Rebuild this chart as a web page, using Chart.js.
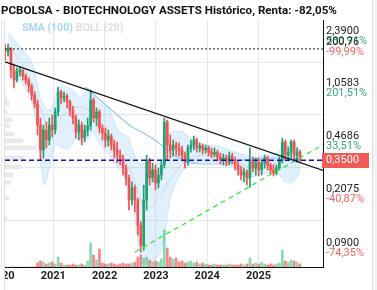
<!DOCTYPE html>
<html>
<head>
<meta charset="utf-8">
<script src="https://cdn.jsdelivr.net/npm/chart.js@4.4.1/dist/chart.umd.min.js"></script>
<style>
  html, body { margin: 0; background: #fff; }
  canvas { display: block; }
</style>
</head>
<body>
<canvas id="chart" width="377" height="290" style="width:377px;height:290px"></canvas>
<script>
const titleText = 'PCBOLSA - BIOTECHNOLOGY ASSETS Histórico, Renta: -82,05%'

// one candle every 3 weeks, from early 2020
const candleStart = 2020.06
const candleStepWeeks = 3
const opens = [
  1.95, 1.866, 1.985, 1.413, 1.210, 1.370, 1.413, 1.287, 1.210, 1.103,
  0.959, 0.835, 0.603, 0.410, 0.558, 0.478, 0.603, 0.558, 0.738, 1.005,
  0.916, 0.945, 0.861, 0.761, 0.672, 0.541, 0.603, 0.493, 0.558, 0.594,
  0.888, 0.672, 0.738, 0.576, 0.533, 0.478, 0.509, 0.443, 0.410, 0.379,
  0.362, 0.310, 0.266, 0.189, 0.228, 0.189, 0.128, 0.094, 0.189, 0.351,
  0.266, 0.301, 0.246, 0.278, 0.325, 0.632, 0.443, 0.410, 0.443, 0.423,
  0.410, 0.379, 0.340, 0.423, 0.443, 0.478, 0.423, 0.436, 0.410, 0.423,
  0.397, 0.385, 0.397, 0.368, 0.351, 0.362, 0.340, 0.373, 0.351, 0.325,
  0.301, 0.278, 0.292, 0.266, 0.351, 0.310, 0.340, 0.301, 0.335, 0.362,
  0.325, 0.301, 0.287, 0.310, 0.351, 0.464, 0.379, 0.397, 0.464, 0.379,
  0.397
]
const highs = [
  2.112, 2.112, 1.985, 1.526, 1.457, 1.480, 1.413, 1.328, 1.248, 1.137,
  1.005, 0.888, 0.672, 0.603, 0.632, 0.672, 0.704, 0.785, 1.086, 1.037,
  1.005, 0.974, 0.888, 0.809, 0.704, 0.652, 0.632, 0.603, 0.672, 1.037,
  0.916, 0.785, 0.761, 0.603, 0.576, 0.558, 0.525, 0.478, 0.464, 0.410,
  0.379, 0.325, 0.278, 0.250, 0.238, 0.195, 0.135, 0.238, 0.379, 0.362,
  0.335, 0.325, 0.310, 0.351, 0.672, 0.652, 0.517, 0.478, 0.464, 0.457,
  0.436, 0.397, 0.443, 0.478, 0.509, 0.493, 0.457, 0.450, 0.443, 0.436,
  0.423, 0.423, 0.410, 0.391, 0.385, 0.379, 0.397, 0.391, 0.368, 0.340,
  0.320, 0.310, 0.301, 0.423, 0.368, 0.362, 0.362, 0.351, 0.379, 0.373,
  0.335, 0.325, 0.325, 0.368, 0.493, 0.478, 0.429, 0.478, 0.478, 0.423,
  0.410
]
const lows = [
  1.649, 1.754, 1.248, 1.069, 1.173, 1.287, 1.210, 1.137, 1.005, 0.888,
  0.785, 0.517, 0.351, 0.362, 0.423, 0.443, 0.501, 0.525, 0.693, 0.835,
  0.861, 0.785, 0.693, 0.613, 0.493, 0.478, 0.443, 0.464, 0.509, 0.558,
  0.632, 0.594, 0.533, 0.478, 0.429, 0.436, 0.410, 0.362, 0.335, 0.325,
  0.278, 0.238, 0.162, 0.175, 0.157, 0.110, 0.0846, 0.087, 0.162, 0.238,
  0.250, 0.221, 0.228, 0.258, 0.310, 0.351, 0.362, 0.373, 0.379, 0.373,
  0.351, 0.310, 0.325, 0.397, 0.410, 0.397, 0.397, 0.385, 0.391, 0.373,
  0.362, 0.368, 0.351, 0.330, 0.325, 0.320, 0.325, 0.330, 0.301, 0.278,
  0.258, 0.250, 0.238, 0.231, 0.292, 0.278, 0.274, 0.278, 0.310, 0.301,
  0.283, 0.274, 0.278, 0.301, 0.335, 0.351, 0.351, 0.362, 0.351, 0.340,
  0.335
]
const closes = [
  1.866, 1.985, 1.413, 1.210, 1.370, 1.413, 1.287, 1.210, 1.103, 0.959,
  0.835, 0.603, 0.410, 0.558, 0.478, 0.603, 0.558, 0.738, 1.005, 0.916,
  0.945, 0.861, 0.761, 0.672, 0.541, 0.603, 0.493, 0.558, 0.594, 0.888,
  0.672, 0.738, 0.576, 0.533, 0.478, 0.509, 0.443, 0.410, 0.379, 0.362,
  0.310, 0.266, 0.189, 0.228, 0.189, 0.128, 0.094, 0.189, 0.351, 0.266,
  0.301, 0.246, 0.278, 0.325, 0.632, 0.443, 0.410, 0.443, 0.423, 0.410,
  0.379, 0.340, 0.423, 0.443, 0.478, 0.423, 0.436, 0.410, 0.423, 0.397,
  0.385, 0.397, 0.368, 0.351, 0.362, 0.340, 0.373, 0.351, 0.325, 0.301,
  0.278, 0.292, 0.266, 0.351, 0.310, 0.340, 0.301, 0.335, 0.362, 0.325,
  0.301, 0.287, 0.310, 0.351, 0.464, 0.379, 0.397, 0.464, 0.379, 0.397,
  0.350
]
const volumes = [
  0, 0, 0, 0, 0, 0, 0, 0, 0, 0,
  0, 4, 6, 5, 3, 4, 5, 3, 10, 4,
  2, 2, 2, 3, 2, 2, 3, 2, 6, 24,
  12, 7, 18, 4, 3, 3, 4, 3, 2, 3,
  4, 3, 3, 4, 5, 10, 12, 9, 10, 7,
  5, 6, 5, 8, 37, 19, 10, 8, 9, 5,
  6, 4, 5, 6, 4, 5, 3, 4, 3, 2,
  2, 3, 2, 2, 2, 2, 3, 2, 2, 2,
  3, 2, 3, 9, 3, 4, 3, 5, 3, 2,
  3, 2, 3, 4, 17, 6, 5, 7, 6, 5,
  3
]

// Bollinger (20) and SMA (100), read at sampled dates
const bandDates = [
  2020.12, 2020.21, 2020.31, 2020.41, 2020.49, 2020.60, 2020.68, 2020.74, 2020.82, 2020.88,
  2020.96, 2021.03, 2021.09, 2021.17, 2021.27, 2021.37, 2021.44, 2021.52, 2021.60, 2021.68,
  2021.75, 2021.87, 2021.99, 2022.07, 2022.16, 2022.26, 2022.36, 2022.46, 2022.55, 2022.65,
  2022.73, 2022.83, 2022.92, 2023.02, 2023.12, 2023.20, 2023.28, 2023.41, 2023.53, 2023.67,
  2023.80, 2023.96, 2024.09, 2024.21, 2024.33, 2024.44, 2024.60, 2024.74, 2024.87, 2025.01,
  2025.13, 2025.26, 2025.38, 2025.52, 2025.65, 2025.75, 2025.81
]
const bandUpper = [
  2.465, 2.317, 2.112, 1.925, 1.782, 1.550, 1.173, 0.930, 0.809, 0.761,
  0.761, 0.888, 1.069, 1.103, 1.086, 1.037, 0.990, 0.916, 0.974, 1.069,
  1.005, 0.848, 0.809, 0.797, 0.672, 0.558, 0.525, 0.501, 0.410, 0.335,
  0.335, 0.335, 0.310, 0.335, 0.325, 0.533, 0.541, 0.550, 0.541, 0.493,
  0.457, 0.443, 0.443, 0.436, 0.423, 0.410, 0.391, 0.379, 0.368, 0.368,
  0.379, 0.379, 0.397, 0.457, 0.457, 0.443, 0.368
]
const bandMiddle = [
  2.047, 1.925, 1.701, 1.503, 1.348, 1.103, 0.930, 0.785, 0.672, 0.585,
  0.567, 0.558, 0.632, 0.704, 0.726, 0.773, 0.797, 0.797, 0.785, 0.761,
  0.715, 0.652, 0.594, 0.541, 0.478, 0.429, 0.362, 0.320, 0.274, 0.214,
  0.180, 0.170, 0.170, 0.189, 0.204, 0.238, 0.266, 0.301, 0.335, 0.362,
  0.373, 0.379, 0.379, 0.373, 0.362, 0.362, 0.340, 0.320, 0.320, 0.325,
  0.330, 0.325, 0.335, 0.351, 0.362, 0.362, 0.351
]
const bandLower = [
  1.754, 1.503, 1.287, 1.137, 1.005, 0.809, 0.594, 0.351, 0.238, 0.266,
  0.351, 0.443, 0.443, 0.423, 0.410, 0.443, 0.493, 0.478, 0.478, 0.478,
  0.558, 0.478, 0.410, 0.391, 0.351, 0.310, 0.292, 0.238, 0.183, 0.0973,
  0.0714, 0.0714, 0.0725, 0.0771, 0.087, 0.128, 0.198, 0.258, 0.301, 0.325,
  0.335, 0.340, 0.340, 0.335, 0.325, 0.325, 0.301, 0.246, 0.270, 0.278,
  0.287, 0.287, 0.287, 0.250, 0.246, 0.270, 0.301
]
const smaDates = [
  2021.62, 2021.91, 2022.20, 2022.50, 2022.79, 2022.98, 2023.18, 2023.37,
  2023.57, 2023.86, 2024.39, 2024.70, 2025.03, 2025.48, 2025.81
]
const smaValues = [
  1.086, 0.888, 0.726, 0.594, 0.525, 0.478, 0.423, 0.373,
  0.346, 0.330, 0.330, 0.351, 0.362, 0.362, 0.357
]

// volume at price, left edge
const profilePrices = [0.90, 0.84, 0.738, 0.652, 0.594, 0.525, 0.471, 0.423, 0.362, 0.316, 0.278, 0.248, 0.195, 0.141]
const profileVolumes = [2, 4, 2, 7, 5, 9, 18, 31, 19, 16, 8, 6, 4, 2]

// trend lines drawn on the chart
const resistanceDates = [2020.06, 2026.26]
const resistancePrices = [1.60, 0.299]
const supportDates = [2022.59, 2026.26]
const supportPrices = [0.0846, 0.445]

const startPrice = 1.957
const startLabel = '200,76'
const startPct = '-99,99%'
const lastPrice = 0.35

const priceTicks = [0.09, 0.2075, 0.4686, 1.0583, 2.39]
const pctLabels = ['-74,35%', '-40,87%', '33,51%', '201,51%', '580,91%']
const yearTicks = [2020, 2021, 2022, 2023, 2024, 2025]

const X_MIN = 2020.0585
const X_MAX = 2026.2573
const FONT = 'Roboto'
const GREEN = '#22a06f'
const RED = '#f4524e'
const PCT_GREEN = '#3aa57c'
const PCT_RED = '#f26464'

const candleDates = opens.map((_, i) => candleStart + i * candleStepWeeks * 7 / 365.25)
const candleColors = opens.map((o, i) => closes[i] >= o ? GREEN : RED)
const volumeColors = opens.map((o, i) => closes[i] >= o ? 'rgba(60,192,132,0.6)' : 'rgba(240,84,84,0.7)')

const points = (xs, ys) => xs.map((x, i) => ({ x, y: ys[i] }))
const level = (v) => [{ x: X_MIN, y: v }, { x: X_MAX, y: v }]

Chart.defaults.font.family = FONT

const overlayText = {
  id: 'overlayText',
  afterDraw(chart) {
    const { ctx, chartArea, width, height } = chart
    const y = chart.scales.y
    const x = chartArea.right + 3
    ctx.save()

    // frame: grey strip on the right, clipped edge on the left
    ctx.fillStyle = '#f4f4f4'
    ctx.fillRect(372, 0, width - 372, height)
    ctx.fillStyle = '#fff'
    ctx.fillRect(0, chartArea.bottom + 1, 4, height)
    ctx.strokeStyle = '#dedede'
    ctx.lineWidth = 1
    ctx.beginPath()
    ctx.moveTo(372.5, 0)
    ctx.lineTo(372.5, height)
    ctx.moveTo(4.5, chartArea.top)
    ctx.lineTo(4.5, height)
    ctx.stroke()

    ctx.textBaseline = 'middle'
    ctx.textAlign = 'left'
    ctx.font = `11px ${FONT}`
    priceTicks.forEach((v, i) => {
      ctx.fillStyle = pctLabels[i].startsWith('-') ? PCT_RED : PCT_GREEN
      ctx.fillText(pctLabels[i], x, y.getPixelForValue(v) + 5)
    })

    const sy = y.getPixelForValue(startPrice)
    ctx.fillStyle = '#222'
    ctx.fillText(startLabel, x, sy - 7)
    ctx.fillStyle = PCT_RED
    ctx.fillText(startPct, x, sy + 3)

    // last price tag
    const ly = Math.round(y.getPixelForValue(lastPrice))
    ctx.fillStyle = '#f25a56'
    ctx.fillRect(chartArea.right - 1, ly - 7, 47, 15)
    ctx.fillStyle = '#fff'
    ctx.fillText(lastPrice.toFixed(4).replace('.', ','), x, ly + 0.5)

    ctx.font = `bold 10.5px ${FONT}`
    ctx.fillStyle = '#a9d6f7'
    ctx.fillText('SMA (100)', chartArea.left + 17, chartArea.top + 8)
    ctx.fillStyle = '#dedede'
    ctx.fillText('BOLL (20)', chartArea.left + 71, chartArea.top + 8)
    ctx.restore()
  }
}

new Chart(document.getElementById('chart'), {
  type: 'bar',
  data: {
    datasets: [
      {
        type: 'line', data: points(bandDates, bandUpper), order: 20,
        borderColor: 'rgba(144,202,249,0.35)', borderWidth: 1, pointRadius: 0,
        fill: '+1', backgroundColor: 'rgba(144,202,249,0.28)'
      },
      {
        type: 'line', data: points(bandDates, bandLower), order: 19,
        borderColor: 'rgba(144,202,249,0.35)', borderWidth: 1, pointRadius: 0
      },
      {
        data: profilePrices.map((p, i) => ({ x: profileVolumes[i], y: p })),
        indexAxis: 'y', xAxisID: 'xp', yAxisID: 'y', order: 18,
        backgroundColor: '#e9e9e9', barThickness: 4, grouped: false
      },
      {
        data: points(candleDates, volumes), yAxisID: 'yv', order: 17,
        backgroundColor: volumeColors, barThickness: 2, grouped: false
      },
      {
        type: 'line', data: points(bandDates, bandMiddle), order: 16,
        borderColor: '#d6d6d6', borderWidth: 1, pointRadius: 0
      },
      {
        type: 'line', data: points(smaDates, smaValues), order: 15,
        borderColor: '#8fcaf6', borderWidth: 1.2, pointRadius: 0
      },
      {
        data: candleDates.map((d, i) => ({ x: d, y: [lows[i], highs[i]] })), order: 14,
        backgroundColor: candleColors, barThickness: 1, grouped: false
      },
      {
        data: candleDates.map((d, i) => ({ x: d, y: [opens[i], closes[i]] })), order: 13,
        backgroundColor: candleColors, barThickness: 2, minBarLength: 1, grouped: false
      },
      {
        type: 'line', data: points(resistanceDates, resistancePrices), order: 12,
        borderColor: '#111', borderWidth: 1.3, pointRadius: 0
      },
      {
        type: 'line', data: points(supportDates, supportPrices), order: 11,
        borderColor: '#3fea3f', borderWidth: 1.4, borderDash: [5, 4], pointRadius: 0
      },
      {
        type: 'line', data: level(startPrice), order: 10,
        borderColor: '#222', borderWidth: 1, borderDash: [2, 2], pointRadius: 0
      },
      {
        type: 'line', data: level(lastPrice), order: 9,
        borderColor: '#1010c8', borderWidth: 1.4, borderDash: [5, 3], pointRadius: 0
      }
    ]
  },
  options: {
    responsive: false,
    animation: false,
    events: [],
    layout: { padding: { left: 1, right: 0, top: 0, bottom: 0 } },
    plugins: {
      legend: { display: false },
      tooltip: { enabled: false },
      title: {
        display: true,
        text: titleText,
        align: 'start',
        color: '#111',
        font: { family: FONT, size: 11.6, weight: 'bold', lineHeight: 1 },
        padding: { top: 5, bottom: 3.4 }
      }
    },
    scales: {
      x: {
        type: 'linear',
        min: X_MIN,
        max: X_MAX,
        offset: false,
        afterBuildTicks: (scale) => { scale.ticks = yearTicks.map(v => ({ value: v })) },
        afterFit: (scale) => {
          scale.height = 23
          scale.paddingLeft = 0
          scale.paddingRight = 0
        },
        grid: { color: '#e6e6e6', drawTicks: false, offset: false },
        border: { color: '#111', width: 1 },
        ticks: {
          autoSkip: false,
          maxRotation: 0,
          padding: 3,
          color: '#222',
          font: { family: FONT, size: 11, weight: 'bold' },
          callback: (v) => String(v)
        }
      },
      y: {
        type: 'logarithmic',
        position: 'right',
        min: 0.06708,
        max: 3.0611,
        offset: false,
        beginAtZero: false,
        afterBuildTicks: (scale) => { scale.ticks = priceTicks.map(v => ({ value: v })) },
        afterFit: (scale) => {
          scale.width = 54
          scale.paddingTop = 0
          scale.paddingBottom = 0
        },
        grid: { color: '#e6e6e6', drawTicks: false },
        border: { color: '#111', width: 1 },
        ticks: {
          padding: 3,
          labelOffset: -5,
          color: '#222',
          font: { family: FONT, size: 11 },
          callback: (v) => v.toFixed(4).replace('.', ',')
        }
      },
      yl: {
        type: 'linear',
        position: 'left',
        grid: { display: false },
        border: { display: false },
        ticks: { display: false },
        afterFit: (scale) => { scale.width = 4 }
      },
      yv: { type: 'linear', display: false, min: 0, max: 247, offset: false },
      xp: { type: 'linear', display: false, min: 0, max: 318, offset: false }
    }
  },
  plugins: [overlayText]
})
</script>
</body>
</html>
